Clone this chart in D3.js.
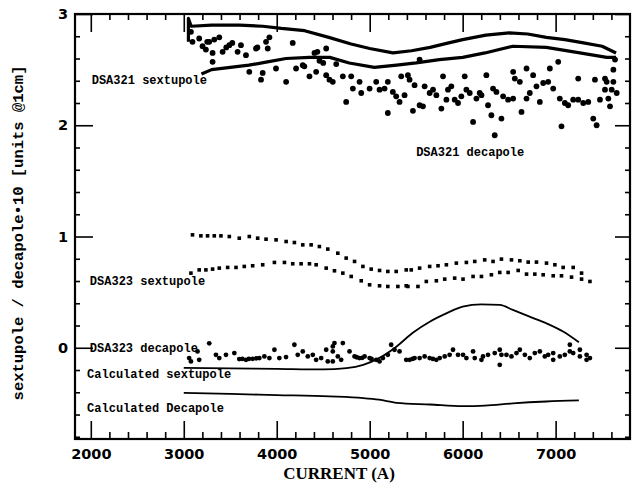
<!DOCTYPE html>
<html>
<head>
<meta charset="utf-8">
<script src="https://cdn.jsdelivr.net/npm/d3@7"></script>
<style>
  body { margin: 0; background: #fff; }
  svg { display: block; }
</style>
</head>
<body>
<div id="chart"></div>
<script>
// values (x = current in A)
var xMajor = [2000, 3000, 4000, 5000, 6000, 7000];
var yMajor = [0, 1, 2, 3];

// DSA321 sextupole: two dense branches drawn as thick lines
var dsa321SextUpper = [[3050,2.75],[3050,2.96],[3080,2.89],[3300,2.90],[3600,2.90],[3850,2.89],[4050,2.87],[4300,2.85],[4560,2.79],[4800,2.73],[5000,2.69],[5250,2.65],[5450,2.67],[5650,2.70],[5850,2.74],[6000,2.77],[6250,2.81],[6500,2.83],[6700,2.82],[6900,2.79],[7100,2.77],[7300,2.74],[7500,2.71],[7650,2.65]];
var dsa321SextLower = [[3190,2.46],[3300,2.50],[3500,2.52],[3700,2.54],[3900,2.57],[4100,2.60],[4350,2.61],[4570,2.61],[4780,2.56],[5050,2.52],[5290,2.54],[5500,2.56],[5750,2.59],[6000,2.61],[6240,2.65],[6540,2.71],[6900,2.70],[7260,2.65],[7550,2.61],[7650,2.61]];

var dsa321Deca = [[3077,2.84],[3094,2.75],[3166,2.78],[3202,2.71],[3238,2.68],[3252,2.75],[3274,2.75],[3310,2.65],[3310,2.57],[3328,2.77],[3382,2.79],[3418,2.66],[3457,2.70],[3490,2.72],[3522,2.74],[3579,2.66],[3615,2.72],[3669,2.63],[3705,2.48],[3777,2.69],[3792,2.70],[3831,2.41],[3849,2.47],[3885,2.75],[3903,2.69],[3921,2.79],[3992,2.51],[4101,2.39],[4172,2.74],[4208,2.51],[4280,2.54],[4297,2.53],[4352,2.44],[4406,2.65],[4424,2.48],[4437,2.66],[4460,2.58],[4500,2.56],[4532,2.45],[4532,2.69],[4567,2.41],[4603,2.39],[4640,2.55],[4711,2.44],[4747,2.21],[4801,2.44],[4819,2.33],[4891,2.39],[4909,2.29],[4999,2.33],[5070,2.39],[5106,2.32],[5160,2.33],[5195,2.39],[5195,2.11],[5249,2.30],[5285,2.26],[5321,2.21],[5339,2.44],[5375,2.27],[5411,2.45],[5429,2.41],[5465,2.13],[5483,2.36],[5537,2.59],[5537,2.18],[5573,2.17],[5591,2.35],[5645,2.29],[5681,2.32],[5717,2.27],[5771,2.15],[5789,2.44],[5825,2.23],[5842,2.32],[5878,2.35],[5914,2.23],[5950,2.20],[5986,2.26],[6022,2.44],[6040,2.32],[6076,2.29],[6112,2.03],[6148,2.24],[6183,2.29],[6202,2.27],[6255,2.45],[6273,2.18],[6309,2.09],[6327,2.33],[6345,1.91],[6363,2.30],[6417,2.06],[6435,2.26],[6489,2.23],[6543,2.24],[6543,2.48],[6561,2.42],[6615,2.39],[6633,2.12],[6687,2.51],[6687,2.24],[6722,2.29],[6758,2.45],[6794,2.35],[6830,2.21],[6866,2.38],[6920,2.39],[6938,2.51],[6974,2.33],[7028,2.57],[7045,2.24],[7063,1.99],[7099,2.20],[7135,2.18],[7189,2.23],[7243,2.23],[7243,2.42],[7297,2.20],[7351,2.21],[7405,2.06],[7423,2.41],[7441,2.00],[7477,2.23],[7531,2.32],[7531,2.42],[7549,2.39],[7567,2.24],[7585,2.17],[7603,2.32],[7621,2.50],[7621,2.39],[7639,2.59],[7657,2.29]];

var dsa323SextUpper = [[3094,1.015],[3184,1.006],[3256,1.006],[3328,1.006],[3400,1.006],[3490,1.0],[3597,0.985],[3705,1.0],[3795,0.985],[3885,0.976],[3993,0.970],[4101,0.955],[4190,0.946],[4280,0.925],[4370,0.925],[4459,0.910],[4549,0.887],[4657,0.85],[4747,0.806],[4837,0.776],[4927,0.731],[5016,0.707],[5106,0.695],[5195,0.686],[5285,0.686],[5393,0.70],[5447,0.70],[5537,0.716],[5645,0.731],[5735,0.737],[5825,0.746],[5932,0.761],[6040,0.767],[6130,0.776],[6237,0.79],[6327,0.776],[6417,0.797],[6525,0.79],[6615,0.782],[6705,0.77],[6794,0.77],[6902,0.761],[6992,0.746],[7081,0.722],[7189,0.722],[7279,0.671]];
var dsa323SextLower = [[3077,0.671],[3166,0.70],[3238,0.70],[3310,0.707],[3382,0.716],[3472,0.722],[3562,0.722],[3651,0.731],[3741,0.737],[3849,0.746],[3975,0.767],[4083,0.767],[4172,0.755],[4262,0.755],[4352,0.755],[4424,0.746],[4532,0.716],[4621,0.692],[4711,0.671],[4801,0.641],[4909,0.602],[4999,0.566],[5106,0.557],[5195,0.551],[5303,0.551],[5393,0.557],[5411,0.551],[5519,0.551],[5609,0.596],[5717,0.602],[5807,0.617],[5914,0.626],[6004,0.617],[6112,0.641],[6202,0.641],[6309,0.656],[6399,0.677],[6489,0.677],[6597,0.695],[6687,0.662],[6776,0.662],[6866,0.656],[6974,0.647],[7063,0.647],[7171,0.635],[7279,0.617],[7369,0.596]];

var dsa323Deca = [[3058,-0.093],[3077,-0.123],[3148,-0.033],[3166,-0.108],[3274,0.04],[3346,-0.063],[3382,-0.093],[3454,-0.063],[3544,-0.048],[3597,-0.102],[3630,-0.1],[3669,-0.108],[3700,-0.1],[3741,-0.099],[3780,-0.095],[3813,-0.093],[3867,-0.078],[3921,-0.093],[3975,-0.018],[4028,-0.093],[4100,-0.084],[4190,0.027],[4226,-0.063],[4280,-0.033],[4334,-0.078],[4388,-0.063],[4424,-0.108],[4478,-0.093],[4532,-0.018],[4549,-0.123],[4603,0.012],[4603,-0.033],[4603,-0.123],[4621,0.042],[4657,-0.078],[4693,-0.108],[4711,0.042],[4783,-0.033],[4837,-0.078],[4860,-0.085],[4891,-0.093],[4920,-0.09],[4945,-0.078],[4999,-0.093],[5020,-0.1],[5070,-0.108],[5106,-0.123],[5142,-0.093],[5195,-0.063],[5231,0.027],[5267,-0.018],[5321,-0.033],[5393,-0.108],[5429,-0.108],[5460,-0.1],[5483,-0.093],[5537,-0.093],[5591,-0.078],[5645,-0.093],[5680,-0.1],[5717,-0.108],[5753,-0.093],[5807,-0.078],[5860,-0.063],[5896,-0.018],[5950,-0.063],[6004,-0.063],[6040,-0.093],[6112,-0.033],[6130,-0.093],[6202,-0.108],[6219,-0.078],[6273,-0.063],[6345,-0.048],[6399,-0.018],[6399,-0.153],[6417,-0.063],[6471,-0.063],[6525,-0.078],[6579,-0.048],[6615,-0.018],[6669,-0.063],[6722,-0.093],[6776,-0.048],[6830,-0.033],[6884,-0.078],[6920,-0.063],[6974,-0.108],[6974,-0.048],[7045,-0.078],[7099,-0.063],[7153,0.027],[7153,-0.033],[7189,-0.048],[7261,-0.018],[7261,-0.078],[7333,-0.063],[7333,-0.108],[7369,-0.093]];

var calcSext = [[3000,-0.18],[3500,-0.185],[4000,-0.19],[4500,-0.195],[4750,-0.183],[4930,-0.153],[5100,-0.093],[5290,0.012],[5460,0.132],[5650,0.236],[5830,0.311],[6000,0.37],[6200,0.39],[6400,0.385],[6540,0.34],[6720,0.28],[6900,0.22],[7080,0.146],[7250,0.05]];
var calcDeca = [[3000,-0.405],[3500,-0.415],[4000,-0.425],[4567,-0.437],[4930,-0.452],[5100,-0.467],[5290,-0.495],[5650,-0.51],[6000,-0.525],[6240,-0.52],[6540,-0.5],[6900,-0.483],[7250,-0.473]];

var labels = [
  {text: "DSA321 sextupole", x: 2010, y: 2.37},
  {text: "DSA321 decapole", x: 5500, y: 1.72},
  {text: "DSA323 sextupole", x: 1990, y: 0.56},
  {text: "DSA323 decapole", x: 1990, y: -0.04},
  {text: "Calculated sextupole", x: 1960, y: -0.275},
  {text: "Calculated Decapole", x: 1960, y: -0.58}
];

var width = 639, height = 484;
var margin = {top: 14, right: 9, bottom: 45, left: 75};

var svg = d3.select("#chart").append("svg")
    .attr("width", width)
    .attr("height", height);

var x = d3.scaleLinear().domain([1830, 7800]).range([margin.left, width - margin.right]);
var y = d3.scaleLinear().domain([-0.82, 3.0]).range([height - margin.bottom, margin.top]);

var xMinor = d3.range(2200, 7800, 200).filter(function(v) { return v % 1000 !== 0; });
var yMinor = d3.range(-0.8, 3.0, 0.2).filter(function(v) { return Math.abs(v - Math.round(v)) > 0.01; });

function axisStyle(g) {
  g.select(".domain").remove();
  g.selectAll(".tick line").attr("stroke", "#000").attr("stroke-width", 1.6);
  g.selectAll("text").attr("fill", "#000")
    .style("font-family", "'DejaVu Sans', sans-serif")
    .style("font-weight", "bold")
    .style("font-size", "14.5px");
}

var bottomY = height - margin.bottom, rightX = width - margin.right;

// bottom
svg.append("g").attr("transform", "translate(0," + bottomY + ")")
  .call(d3.axisBottom(x).tickValues(xMajor).tickSize(-18).tickPadding(10).tickFormat(d3.format("d")))
  .call(axisStyle);
svg.append("g").attr("transform", "translate(0," + bottomY + ")")
  .call(d3.axisBottom(x).tickValues(xMinor).tickSize(-7).tickFormat(""))
  .call(axisStyle);
// top
svg.append("g").attr("transform", "translate(0," + margin.top + ")")
  .call(d3.axisTop(x).tickValues(xMajor).tickSize(-18).tickFormat(""))
  .call(axisStyle);
svg.append("g").attr("transform", "translate(0," + margin.top + ")")
  .call(d3.axisTop(x).tickValues(xMinor).tickSize(-6).tickFormat(""))
  .call(axisStyle);
// left
svg.append("g").attr("transform", "translate(" + margin.left + ",0)")
  .call(d3.axisLeft(y).tickValues(yMajor).tickSize(-18).tickPadding(7).tickFormat(d3.format("d")))
  .call(axisStyle);
svg.append("g").attr("transform", "translate(" + margin.left + ",0)")
  .call(d3.axisLeft(y).tickValues(yMinor).tickSize(-5).tickFormat(""))
  .call(axisStyle);
// right
svg.append("g").attr("transform", "translate(" + rightX + ",0)")
  .call(d3.axisRight(y).tickValues(yMajor).tickSize(-15).tickFormat(""))
  .call(axisStyle);
svg.append("g").attr("transform", "translate(" + rightX + ",0)")
  .call(d3.axisRight(y).tickValues(yMinor).tickSize(-5).tickFormat(""))
  .call(axisStyle);

// frame
svg.append("rect")
  .attr("x", margin.left).attr("y", margin.top)
  .attr("width", rightX - margin.left).attr("height", bottomY - margin.top)
  .attr("fill", "none").attr("stroke", "#000").attr("stroke-width", 2.2);

var line = d3.line().x(function(d) { return x(d[0]); }).y(function(d) { return y(d[1]); });
var smooth = d3.line().curve(d3.curveMonotoneX).x(function(d) { return x(d[0]); }).y(function(d) { return y(d[1]); });

// DSA321 sextupole branches
[dsa321SextUpper, dsa321SextLower].forEach(function(s) {
  svg.append("path").datum(s).attr("d", line)
    .attr("fill", "none").attr("stroke", "#000").attr("stroke-width", 3.2)
    .attr("stroke-linejoin", "round");
});

// DSA321 decapole dots
svg.append("g").selectAll("circle").data(dsa321Deca).join("circle")
  .attr("cx", function(d) { return x(d[0]); })
  .attr("cy", function(d) { return y(d[1]); })
  .attr("r", 2.9).attr("fill", "#000");

// DSA323 sextupole: small squares
svg.append("g").selectAll("rect").data(dsa323SextUpper.concat(dsa323SextLower)).join("rect")
  .attr("x", function(d) { return x(d[0]) - 1.8; })
  .attr("y", function(d) { return y(d[1]) - 1.8; })
  .attr("width", 3.6).attr("height", 3.6).attr("fill", "#000");

// DSA323 decapole dots
svg.append("g").selectAll("circle").data(dsa323Deca).join("circle")
  .attr("cx", function(d) { return x(d[0]); })
  .attr("cy", function(d) { return y(d[1]); })
  .attr("r", 2.4).attr("fill", "#000");

// calculated curves
[calcSext, calcDeca].forEach(function(s) {
  svg.append("path").datum(s).attr("d", smooth)
    .attr("fill", "none").attr("stroke", "#000").attr("stroke-width", 1.8);
});

// annotations
svg.append("g").selectAll("text").data(labels).join("text")
  .attr("x", function(d) { return x(d.x); })
  .attr("y", function(d) { return y(d.y); })
  .style("font-family", "'Liberation Mono', monospace")
  .style("font-weight", "bold")
  .style("font-size", "12px")
  .text(function(d) { return d.text; });

// axis titles
svg.append("text")
  .attr("x", 339).attr("y", 479)
  .attr("text-anchor", "middle")
  .style("font-family", "'Liberation Serif', serif")
  .style("font-weight", "bold")
  .style("font-size", "17px")
  .text("CURRENT (A)");

svg.append("text")
  .attr("transform", "translate(23,233) rotate(-90)")
  .attr("text-anchor", "middle")
  .style("font-family", "'Liberation Mono', monospace")
  .style("font-weight", "bold")
  .style("font-size", "15.5px")
  .text("sextupole / decapole\u202210  [units @1cm]");
</script>
</body>
</html>
